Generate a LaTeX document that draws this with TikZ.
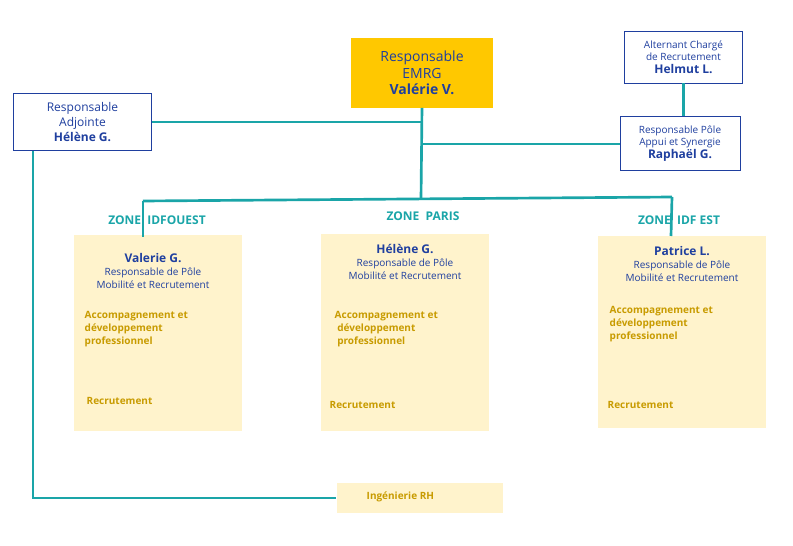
\documentclass[tikz,border=0pt]{standalone}
\usepackage{fontspec}
\setmainfont{Open Sans}
\begin{document}
\begin{tikzpicture}[x=0.75pt,y=-0.75pt,
  blu/.style={text=c1},
  line/.style={draw=teal1,line width=2pt},
  wbox/.style={draw=c1,fill=white,line width=0.6pt,align=center,text=c1,font=\fontsize{9}{11}\selectfont},
  col/.style={fill=ly,draw=none},
  gold/.style={text=gd,font=\bfseries\fontsize{7.5}{10}\selectfont,align=left,anchor=west},
  zone/.style={text=teal1,font=\bfseries\fontsize{9}{11}\selectfont},
  nm/.style={text=c1,font=\fontsize{7.5}{10}\selectfont,align=center}]
\definecolor{c1}{HTML}{1F3F9F}
\definecolor{teal1}{HTML}{1AA5A8}
\definecolor{ly}{HTML}{FFF3CC}
\definecolor{gd}{HTML}{C89B00}
\definecolor{yl}{HTML}{FFC800}
\useasboundingbox (0,0) rectangle (793,546);
% boxes
\node[fill=yl,minimum width=107pt,minimum height=52pt,align=center,text=c1,font=\fontsize{10.5}{12.5}\selectfont] (emrg) at (422,73) {Responsable\\EMRG\\\textbf{Valérie V.}};
\node[wbox,minimum width=103pt,minimum height=43pt] (adj) at (82.5,122) {Responsable\\Adjointe\\\textbf{Hélène G.}};
\node[wbox,font=\fontsize{7.5}{9.5}\selectfont,minimum width=89pt,minimum height=39pt] (alt) at (683.5,57) {Alternant Chargé\\de Recrutement\\\textbf{\fontsize{9}{11}\selectfont Helmut L.}};
\node[wbox,font=\fontsize{7.5}{9.5}\selectfont,minimum width=90pt,minimum height=40pt] (pole) at (680,143.5) {Responsable Pôle\\Appui et Synergie\\\textbf{\fontsize{9}{11}\selectfont Raphaël G.}};
% columns
\node[col,minimum width=126pt,minimum height=147pt] (c1b) at (158,333) {};
\node[col,minimum width=126pt,minimum height=148pt] (c2b) at (405,332.5) {};
\node[col,minimum width=126pt,minimum height=144pt] (c3b) at (682,332) {};
\node[col,minimum width=125pt,minimum height=23pt] (ing) at (420,498) {};
\node[gold] at (362,497) {Ingénierie RH};
% lines
\coordinate (j1) at (421,122);
\coordinate (j2) at (421,144);
\coordinate (hl) at (143,201);
\coordinate (hr) at (672,197);
\coordinate (hm) at (421,199);
\coordinate (lc) at (33,498);
\draw[line] (emrg.south) -- (hm);
\draw[line] (adj.east|-j1) -- (j1);
\draw[line] (j2) -- (pole.west|-j2);
\draw[line] (alt.south) -- (alt.south|-pole.north);
\draw[line] (hl) -- (hr);
\draw[line] (hl) -- (143,237);
\draw[line] (hr) -- (671,236);
\draw[line] (33,151) -- (lc) -- (ing.west|-lc);
% zones
\node[zone] (z1) at (157,220) {ZONE\ \ IDFOUEST};
\node[zone] (z2) at (423,216) {ZONE\ \ PARIS};
\node[zone] (z3) at (679,220) {ZONE\ \ IDF EST};
% column texts
\node[nm] at (153,271) {\textbf{\fontsize{9}{11}\selectfont Valerie G.}\\Responsable de Pôle\\Mobilité et Recrutement};
\node[nm] at (405,262) {\textbf{\fontsize{9}{11}\selectfont Hélène G.}\\Responsable de Pôle\\Mobilité et Recrutement};
\node[nm] at (682,264) {\textbf{\fontsize{9}{11}\selectfont Patrice L.}\\Responsable de Pôle\\Mobilité et Recrutement};
\node[gold] at (80,329) {Accompagnement et\\développement\\professionnel};
\node[gold] at (330,329) {Accompagnement et\\\ développement\\\ professionnel};
\node[gold] at (605,324) {Accompagnement et\\développement\\professionnel};
\node[gold] at (82,401) {Recrutement};
\node[gold] at (325,405) {Recrutement};
\node[gold] at (603,405) {Recrutement};
\end{tikzpicture}
\end{document}
